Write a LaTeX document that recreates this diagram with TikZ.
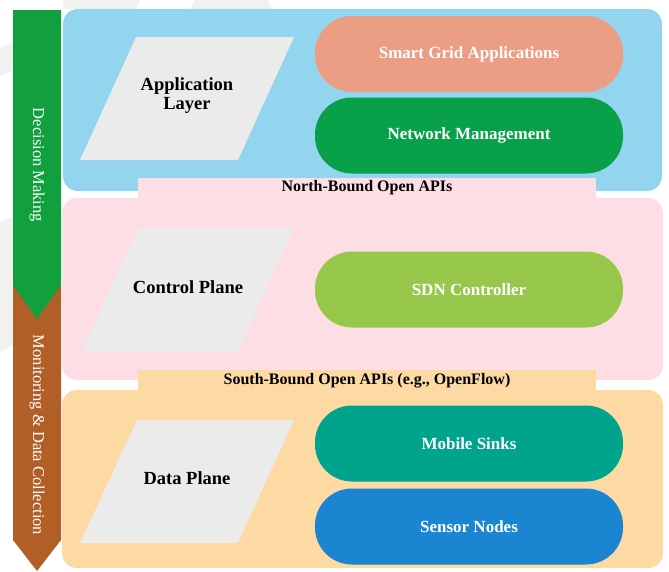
\documentclass[tikz,border=0pt]{standalone}
\usepackage{fontspec}
\setmainfont{Liberation Serif}
\definecolor{layerblue}{HTML}{93D4EE}
\definecolor{layerpink}{HTML}{FDDEE5}
\definecolor{layerorange}{HTML}{FDD9A3}
\definecolor{paragrey}{HTML}{EBEBEB}
\definecolor{salmon}{HTML}{EC9E84}
\definecolor{netgreen}{HTML}{08A14A}
\definecolor{lime}{HTML}{97C84B}
\definecolor{teal}{HTML}{00A38B}
\definecolor{sensorblue}{HTML}{1B85D2}
\definecolor{stripgreen}{HTML}{12A03E}
\definecolor{stripbrown}{HTML}{B15F27}
\definecolor{wm}{HTML}{F1F1F1}
\begin{document}
\begin{tikzpicture}[x=1pt,y=-1pt,
  pill/.style={rounded corners=37pt, minimum width=308pt, minimum height=76pt, inner sep=0pt,
    text=white, font=\fontsize{17}{20}\selectfont\bfseries},
  paralabel/.style={align=center, text=black, font=\fontsize{18.5}{21}\selectfont\bfseries},
  tablabel/.style={text=black, font=\fontsize{16}{19}\selectfont\bfseries},
  sidelabel/.style={text=white, rotate=-90, font=\fontsize{16.5}{19}\selectfont}]
\useasboundingbox (0,0) rectangle (669,571);
% faint watermark shapes
\fill[wm] (63,0) -- (140,0) -- (136,9) -- (63,9) -- cycle;
\fill[wm] (195,0) -- (268,0) -- (272,9) -- (190,9) -- cycle;
\fill[wm] (0,222) -- (13,216) -- (13,345) -- (0,352) -- cycle;
\fill[wm] (0,48) -- (13,42) -- (13,70) -- (0,76) -- cycle;
% side strip
\fill[stripbrown] (13,285) -- (61,285) -- (61,540) -- (37,571) -- (13,540) -- cycle;
\fill[stripgreen] (13,10) -- (61,10) -- (61,285) -- (37,319) -- (13,285) -- cycle;
\node[sidelabel] (dm) at (37,165) {Decision Making};
\node[sidelabel] (mdc) at (37,435) {Monitoring \& Data Collection};
% application layer
\fill[layerblue, rounded corners=15pt] (63,9) rectangle (662,191);
\fill[paragrey] (136,37) -- (294,37) -- (238,160) -- (80,160) -- cycle;
\node[paralabel] (app) at (187,96) {Application\\[-2pt]Layer};
\node[pill, fill=salmon] (sga) at (469,54) {Smart Grid Applications};
\node[pill, fill=netgreen] (nm) at (469,135.5) {Network Management};
% control plane
\fill[layerpink] (138,178) rectangle (596,200);
\fill[layerpink, rounded corners=15pt] (62,198) rectangle (663,380);
\node[tablabel] (nb) at (367,188) {North-Bound Open APIs};
\fill[paragrey] (138,228) -- (294,228) -- (238,351) -- (82,351) -- cycle;
\node[paralabel] (cp) at (188,287) {Control Plane};
\node[pill, fill=lime] (sdn) at (469,289.5) {SDN Controller};
% data plane
\fill[layerorange] (138,370) rectangle (596,392);
\fill[layerorange, rounded corners=15pt] (62,390) rectangle (663,568);
\node[tablabel] (sb) at (367,381) {South-Bound Open APIs (e.g., OpenFlow)};
\fill[paragrey] (137,420) -- (294,420) -- (238,543) -- (80,543) -- cycle;
\node[paralabel] (dp) at (187,478) {Data Plane};
\node[pill, fill=teal] (ms) at (469,443.5) {Mobile Sinks};
\node[pill, fill=sensorblue] (sn) at (469,526.5) {Sensor Nodes};
\end{tikzpicture}
\end{document}
